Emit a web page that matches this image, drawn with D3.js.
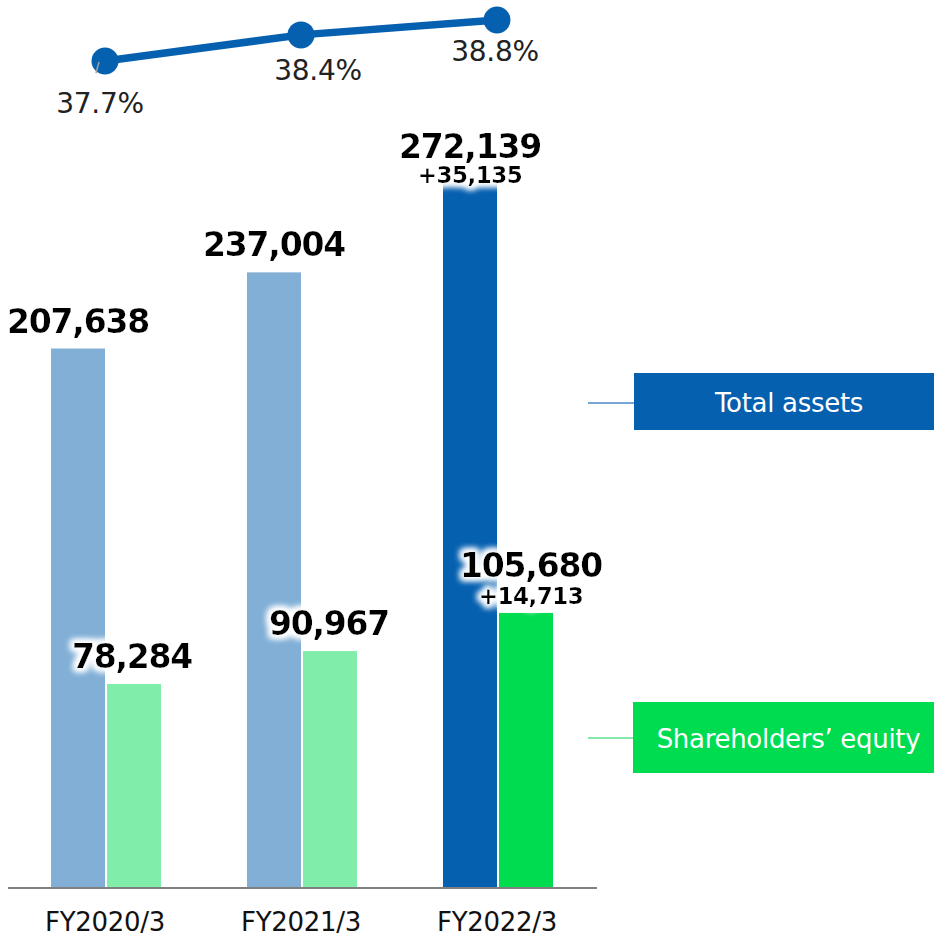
<!DOCTYPE html>
<html><head><meta charset="utf-8">
<script src="https://cdn.jsdelivr.net/npm/d3@7"></script>
<style>body{margin:0;background:#fff}svg{display:block}</style>
</head><body>
<script>
const categories = ["FY2020/3","FY2021/3","FY2022/3"];
const totalAssets = [207638, 237004, 272139];
const equity = [78284, 90967, 105680];
const equityRatio = [37.7, 38.4, 38.8];
const assetLabels = ["207,638","237,004","272,139"];
const equityLabels = ["78,284","90,967","105,680"];
const assetChange = [null, null, "+35,135"];
const equityChange = [null, null, "+14,713"];
const ratioLabels = ["37.7%","38.4%","38.8%"];
const legendLabels = ["Total assets","Shareholders\u2019 equity"];

const W=934,H=937;
const svg=d3.select("body").append("svg").attr("width",W).attr("height",H);
const defs=svg.append("defs");
const f=defs.append("filter").attr("id","glow").attr("x","-20%").attr("y","-40%").attr("width","140%").attr("height","180%");
f.append("feMorphology").attr("in","SourceAlpha").attr("operator","dilate").attr("radius",3).attr("result","d");
f.append("feGaussianBlur").attr("in","d").attr("stdDeviation",3).attr("result","b");
f.append("feFlood").attr("flood-color","#fff");
f.append("feComposite").attr("in2","b").attr("operator","in").attr("result","w");
const m=f.append("feMerge");m.append("feMergeNode").attr("in","w");m.append("feMergeNode").attr("in","w");m.append("feMergeNode").attr("in","SourceGraphic");

const FONT="'DejaVu Sans', Verdana, sans-serif";
const x0=d3.scalePoint().domain(categories).range([106,498]);
const y=d3.scaleLinear().domain([0,300000]).range([887,109]);
const yr=d3.scaleLinear().domain([37,39]).range([87.1,12.5]);
const bw=54, gap=2;
const cA=["#82afd6","#82afd6","#0660b0"], cE=["#80eeaa","#80eeaa","#00dc50"];

categories.forEach((c,i)=>{
  const cx=x0(c);
  svg.append("rect").attr("x",cx-gap/2-bw).attr("y",y(totalAssets[i])).attr("width",bw).attr("height",y(0)-y(totalAssets[i])).attr("fill",cA[i]);
  svg.append("rect").attr("x",cx+gap/2).attr("y",y(equity[i])).attr("width",bw).attr("height",y(0)-y(equity[i])).attr("fill",cE[i]);
});
svg.append("line").attr("x1",8).attr("x2",597).attr("y1",888).attr("y2",888).attr("stroke","#808080").attr("stroke-width",2);

// x labels
svg.selectAll(".xl").data(categories).join("text").attr("x",d=>x0(d)-1).attr("y",931).attr("text-anchor","middle")
  .attr("font-family",FONT).attr("font-size",26).attr("letter-spacing",-0.3).attr("fill","#111").text(d=>d);

// bar labels
const lab=svg.append("g").attr("filter","url(#glow)").attr("font-family",FONT).attr("font-weight","bold").attr("fill","#000").attr("text-anchor","middle");
const eDx=[26,27,33];
categories.forEach((c,i)=>{
  const cx=x0(c);
  const ax=cx-28, ex=cx+eDx[i];
  const aOff = assetChange[i]?23:16;
  lab.append("text").attr("x",ax).attr("y",y(totalAssets[i])-aOff).attr("font-size",33).attr("letter-spacing",-1.2).text(assetLabels[i]);
  if(assetChange[i]) lab.append("text").attr("x",ax).attr("y",y(totalAssets[i])+2).attr("font-size",23).attr("letter-spacing",-0.5).text(assetChange[i]);
  const eOff = equityChange[i]?36:16;
  lab.append("text").attr("x",ex).attr("y",y(equity[i])-eOff).attr("font-size",33).attr("letter-spacing",-1.2).text(equityLabels[i]);
  if(equityChange[i]) lab.append("text").attr("x",ex).attr("y",y(equity[i])-9).attr("font-size",23).attr("letter-spacing",-0.5).text(equityChange[i]);
});

// ratio line
const line=d3.line().x((d,i)=>x0(categories[i])-1).y(d=>yr(d));
svg.append("path").datum(equityRatio).attr("d",line).attr("fill","none").attr("stroke","#0660b0").attr("stroke-width",7.5);
svg.selectAll(".dot").data(equityRatio).join("circle").attr("cx",(d,i)=>x0(categories[i])-1).attr("cy",d=>yr(d)).attr("r",13.5).attr("fill","#0660b0");
svg.append("line").attr("x1",96).attr("y1",73).attr("x2",99).attr("y2",62).attr("stroke","#a0a0a0").attr("stroke-width",1.5);
const rdx=[-6,16,-3], rdy=[52,45,41];
svg.selectAll(".rl").data(ratioLabels).join("text").attr("x",(d,i)=>x0(categories[i])+rdx[i]).attr("y",(d,i)=>yr(equityRatio[i])+rdy[i])
  .attr("text-anchor","middle").attr("font-family",FONT).attr("font-size",28).attr("letter-spacing",-0.3).attr("fill","#222").text(d=>d);

// legend
const leg=[{y:373,h:57,c:"#0660b0",lc:"#4d8ac4",ly:403,x:634},{y:702,h:71,c:"#00dc50",lc:"#5ee08e",ly:738,x:633}];
leg.forEach((l,i)=>{
  svg.append("line").attr("x1",588).attr("x2",l.x).attr("y1",l.ly).attr("y2",l.ly).attr("stroke",l.lc).attr("stroke-width",1.3);
  svg.append("rect").attr("x",l.x).attr("y",l.y).attr("width",W-l.x).attr("height",l.h).attr("fill",l.c);
  svg.append("text").attr("x",(l.x+W)/2+5).attr("y",l.y+l.h/2+10).attr("text-anchor","middle").attr("font-family",FONT)
    .attr("font-size",26).attr("letter-spacing",-0.3).attr("fill","#fff").text(legendLabels[i]);
});
</script>
</body></html>
